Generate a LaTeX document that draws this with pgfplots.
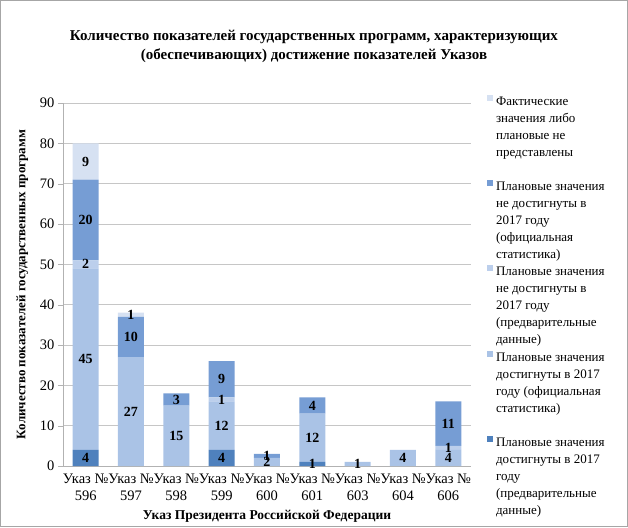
\documentclass[border=0pt]{standalone}
\usepackage{fontspec}
\setmainfont{Liberation Serif}
\usepackage{pgfplots}
\usepackage{pgfplotstable}
\pgfplotsset{compat=1.18}
\definecolor{cA}{RGB}{79,129,189}
\definecolor{cB}{RGB}{170,195,230}
\definecolor{cC}{RGB}{188,207,236}
\definecolor{cD}{RGB}{118,157,212}
\definecolor{cE}{RGB}{214,225,242}
\pgfplotstableread{
x s1 s2 s3 s4 s5
0 4 45 2 20 9
1 0 27 0 10 1
2 0 15 0 3 0
3 4 12 1 9 0
4 0 2 0 1 0
5 1 12 0 4 0
6 0 1 0 0 0
7 0 4 0 0 0
8 0 4 1 11 0
}\datatable
\newcommand{\lgtext}[1]{\parbox[b]{125pt}{\fontsize{13}{17}\selectfont\raggedright\strut #1\strut}}
\pgfplotsset{sqlegend/.style={legend image code/.code={\path[##1] (0pt,74pt) rectangle (6pt,80pt);}}}
\begin{document}
\begin{tikzpicture}
\begin{axis}[
  name=ax,
  scale only axis, width=408pt, height=363pt,
  ybar stacked, bar width=26pt,
  xmin=-0.5, xmax=8.5, ymin=0, ymax=90,
  ytick={0,10,...,90},
  xtick={0,...,8},
  xticklabels={{Указ №\\596},{Указ №\\597},{Указ №\\598},{Указ №\\599},{Указ №\\600},{Указ №\\601},{Указ №\\603},{Указ №\\604},{Указ №\\606}},
  xticklabel style={align=center, font=\fontsize{14.5}{17.5}\selectfont, yshift=1pt},
  yticklabel style={font=\fontsize{14.5}{16}\selectfont},
  /pgf/number format/assume math mode=true,
  axis x line*=bottom, axis y line*=left,
  axis line style={gray!60},
  xtick style={draw=none},
  ytick style={gray!60},
  tick align=outside, major tick length=5pt,
  ymajorgrids, grid style={gray!45},
  xlabel={\bfseries Указ Президента Российской Федерации},
  ylabel={\bfseries Количество показателей государственных программ},
  xlabel style={font=\fontsize{13.5}{16}\selectfont, at={(axis description cs:0.5,-0.138)}, anchor=center},
  ylabel style={font=\fontsize{13}{16}\selectfont, at={(axis description cs:-0.1,0.5)}, anchor=center},
  point meta=explicit,
  nodes near coords={\pgfmathfloatifflags{\pgfplotspointmeta}{0}{}{\pgfmathprintnumber{\pgfplotspointmeta}}},
  every node near coord/.append style={anchor=center, font=\bfseries\fontsize{14}{16}\selectfont},
  reverse legend,
  legend style={at={(1.039,1.0276)}, anchor=north west, draw=none, fill=none, inner sep=0pt, row sep=3.75pt, column sep=3pt, cells={anchor=south west}, nodes={inner sep=0pt}},
]
\addplot[fill=cA, draw=none, sqlegend] table[x=x, y=s1, meta=s1] {\datatable};
\addlegendentry{\lgtext{Плановые значения\\достигнуты в 2017\\году\\(предварительные\\данные)}}
\addplot[fill=cB, draw=none, sqlegend] table[x=x, y=s2, meta=s2] {\datatable};
\addlegendentry{\lgtext{Плановые значения\\достигнуты в 2017\\году (официальная\\статистика)\\\strut}}
\addplot[fill=cC, draw=none, sqlegend] table[x=x, y=s3, meta=s3] {\datatable};
\addlegendentry{\lgtext{Плановые значения\\не достигнуты в\\2017 году\\(предварительные\\данные)}}
\addplot[fill=cD, draw=none, sqlegend] table[x=x, y=s4, meta=s4] {\datatable};
\addlegendentry{\lgtext{Плановые значения\\не достигнуты в\\2017 году\\(официальная\\статистика)}}
\addplot[fill=cE, draw=none, sqlegend] table[x=x, y=s5, meta=s5] {\datatable};
\addlegendentry{\lgtext{Фактические\\значения либо\\плановые не\\представлены\\\strut}}
\end{axis}
\begin{scope}[shift={(ax.south west)}]
\draw[gray!70, line width=1pt] (-62.5pt,-60.5pt) rectangle (564.5pt,465.5pt);
\node[font=\bfseries\fontsize{15}{19}\selectfont, align=center] at (251pt,420pt) {Количество показателей государственных программ, характеризующих\\(обеспечивающих) достижение показателей Указов};
\end{scope}
\end{tikzpicture}
\end{document}
